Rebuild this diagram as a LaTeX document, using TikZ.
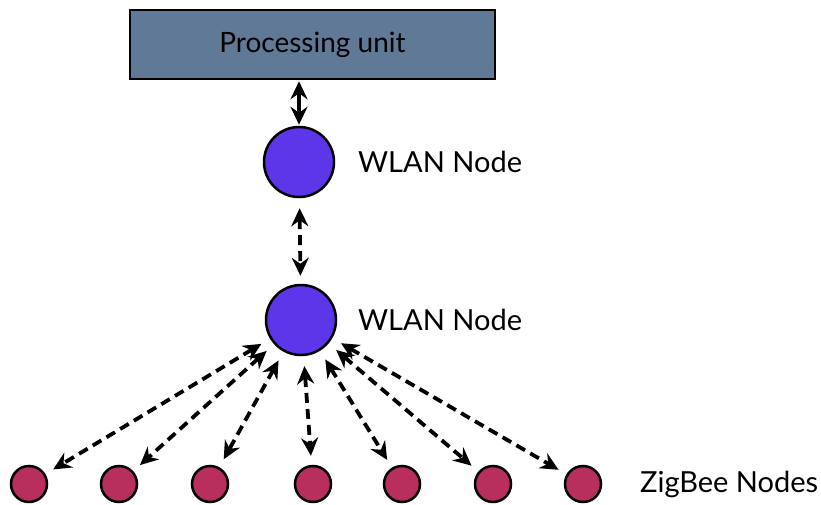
\documentclass[tikz,border=0pt]{standalone}
\usepackage{fontspec}
\setmainfont{Lato}
\usetikzlibrary{arrows.meta}
\definecolor{boxfill}{RGB}{96,121,150}
\definecolor{wlanfill}{RGB}{93,54,234}
\definecolor{zigfill}{RGB}{184,46,92}
\tikzset{
  procbox/.style={draw=black, line width=2.5pt, fill=boxfill, minimum width=365pt, minimum height=69pt, inner sep=0pt, font=\fontsize{28}{32}\selectfont},
  wlan/.style={circle, draw=black, line width=2.5pt, fill=wlanfill, minimum size=70pt, inner sep=0pt},
  zig/.style={circle, draw=black, line width=2.5pt, fill=zigfill, minimum size=36pt, inner sep=0pt},
  lbl/.style={anchor=west, inner sep=0pt, font=\fontsize{29}{33}\selectfont},
  link/.style={line width=3.8pt, {Stealth[length=18pt,width=17pt,inset=6pt]}-{Stealth[length=18pt,width=17pt,inset=6pt]}},
  dlink/.style={link, dash pattern=on 10pt off 6pt},
}
\begin{document}
\begin{tikzpicture}[x=1pt,y=-1pt]
\useasboundingbox (0,0) rectangle (821,505);
\node[procbox] (pu) at (312.5,44.5) {Processing unit};
\node[wlan] (w1) at (299,162) {};
\node[wlan] (w2) at (301,320) {};
\node[lbl] (l1) at (358,162) {WLAN Node};
\node[lbl] (l2) at (358,320) {WLAN Node};
\foreach \i/\x in {1/29,2/119,3/210,4/313,5/402,6/493,7/583}{
  \node[zig] (z\i) at (\x,484) {};
}
\node[lbl] (l3) at (640,484) {ZigBee Nodes};
\draw[link, shorten <=1pt, shorten >=1pt] (pu.south -| w1) -- (w1);
\draw[dlink, shorten <=10pt, shorten >=8pt] (w1) -- (w2);
\foreach \i in {1,...,7}{
  \draw[dlink, shorten <=10pt, shorten >=9pt] (w2) -- (z\i);
}
\end{tikzpicture}
\end{document}
